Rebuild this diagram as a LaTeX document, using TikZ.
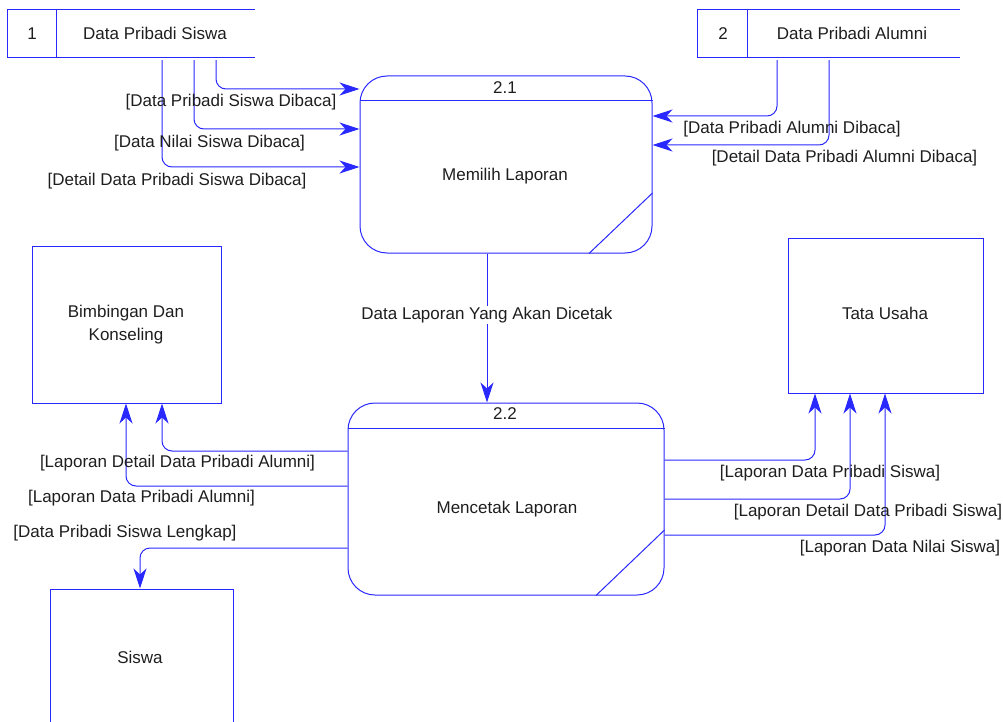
\documentclass[tikz,border=0pt]{standalone}
\usepackage{fontspec}
\setmainfont{Liberation Sans}
\usetikzlibrary{arrows.meta}
\definecolor{dfdblue}{RGB}{40,40,255}
\definecolor{txt}{RGB}{30,30,30}
\tikzset{
  every node/.style={font=\fontsize{17}{20}\selectfont, text=txt, inner sep=0pt},
  line/.style={draw=dfdblue, line width=1pt},
  flow/.style={line, rounded corners=10pt, -{Stealth[length=20pt,width=13pt,inset=6pt]}},
  entity/.style={line, rectangle},
  procbox/.style={line, rectangle, rounded corners=27pt},
  hidden/.style={rectangle, draw=none},
  lbl/.style={anchor=center}
}
\begin{document}
\begin{tikzpicture}[x=1pt,y=-1pt]
\useasboundingbox (0,0) rectangle (1003,722);
\clip (0,0) rectangle (1003,722);

% data stores
\node[hidden, minimum width=247pt, minimum height=47pt] (s1) at (131.5,33.5) {};
\draw[line] (s1.north east) -- (s1.north west) -- (s1.south west) -- (s1.south east);
\draw[line] (s1.north west -| 56,0) -- (s1.south west -| 56,0);
\node (s1n) at (32,33.5) {1};
\node (s1t) at (155,33.5) {Data Pribadi Siswa};

\node[hidden, minimum width=262pt, minimum height=47pt] (s2) at (829,33.5) {};
\draw[line] (s2.north east) -- (s2.north west) -- (s2.south west) -- (s2.south east);
\draw[line] (s2.north west -| 747,0) -- (s2.south west -| 747,0);
\node (s2n) at (723,33.5) {2};
\node (s2t) at (852,33.5) {Data Pribadi Alumni};

% processes
\node[procbox, minimum width=292pt, minimum height=177pt] (p21) at (506,164.5) {};
\draw[line] (p21.west |- 0,101) -- (p21.east |- 0,101);
\draw[line] (p21.east |- 0,193) -- (p21.south -| 589,0);
\node (p21n) at (505,87.5) {2.1};
\node (p21t) at (505,176) {Memilih Laporan};

\node[procbox, minimum width=316pt, minimum height=192pt] (p22) at (506,499) {};
\draw[line] (p22.west |- 0,428) -- (p22.east |- 0,428);
\draw[line] (p22.east |- 0,530) -- (p22.south -| 596,0);
\node (p22n) at (505,414) {2.2};
\node (p22t) at (507,509) {Mencetak Laporan};

% external entities
\node[entity, minimum width=189pt, minimum height=157pt] (bk) at (126.5,324.5) {};
\node[align=center] (bkt) at (126,324.5) {Bimbingan Dan\\[3pt]Konseling};
\node[entity, minimum width=195pt, minimum height=155pt] (tu) at (885.5,315.5) {};
\node (tut) at (885,313) {Tata Usaha};
\node[entity, minimum width=183pt, minimum height=136pt] (sw) at (141.5,657) {};
\node (swt) at (140,657) {Siswa};

% flows store 1 -> 2.1
\draw[flow, shorten <=3pt] (s1.south -| 216,0) |- (p21.west |- 0,89);
\draw[flow, shorten <=3pt] (s1.south -| 194,0) |- (p21.west |- 0,129);
\draw[flow, shorten <=3pt] (s1.south -| 162,0) |- (p21.west |- 0,167);
\node (l1) at (231,102) {[Data Pribadi Siswa Dibaca]};
\node (l2) at (209.5,143) {[Data Nilai Siswa Dibaca]};
\node (l3) at (177,181) {[Detail Data Pribadi Siswa Dibaca]};

% flows store 2 -> 2.1
\draw[flow, shorten <=3pt] (s2.south -| 777,0) |- (p21.east |- 0,116);
\draw[flow, shorten <=3pt] (s2.south -| 829,0) |- (p21.east |- 0,145);
\node (l4) at (792,129) {[Data Pribadi Alumni Dibaca]};
\node (l5) at (844.5,158) {[Detail Data Pribadi Alumni Dibaca]};

% 2.1 -> 2.2
\draw[flow] (p21.south -| 487,0) -- (p22.north -| 487,0);
\node[fill=white, inner sep=1pt] (l6) at (487,315) {Data Laporan Yang Akan Dicetak};

% 2.2 -> entities on the left
\draw[flow] (p22.west |- 0,451) -| (bk.south -| 162,0);
\draw[flow] (p22.west |- 0,486) -| (bk.south -| 126,0);
\draw[flow] (p22.west |- 0,548) -| (sw.north -| 140,0);
\node (l7) at (177.5,463) {[Laporan Detail Data Pribadi Alumni]};
\node (l8) at (141.5,498) {[Laporan Data Pribadi Alumni]};
\node (l9) at (125,533) {[Data Pribadi Siswa Lengkap]};

% 2.2 -> Tata Usaha
\draw[flow] (p22.east |- 0,460) -| (tu.south -| 815,0);
\draw[flow] (p22.east |- 0,499) -| (tu.south -| 850,0);
\draw[flow] (p22.east |- 0,535) -| (tu.south -| 885,0);
\node (l10) at (830,473) {[Laporan Data Pribadi Siswa]};
\node (l11) at (868,512) {[Laporan Detail Data Pribadi Siswa]};
\node (l12) at (900,548) {[Laporan Data Nilai Siswa]};
\end{tikzpicture}
\end{document}
